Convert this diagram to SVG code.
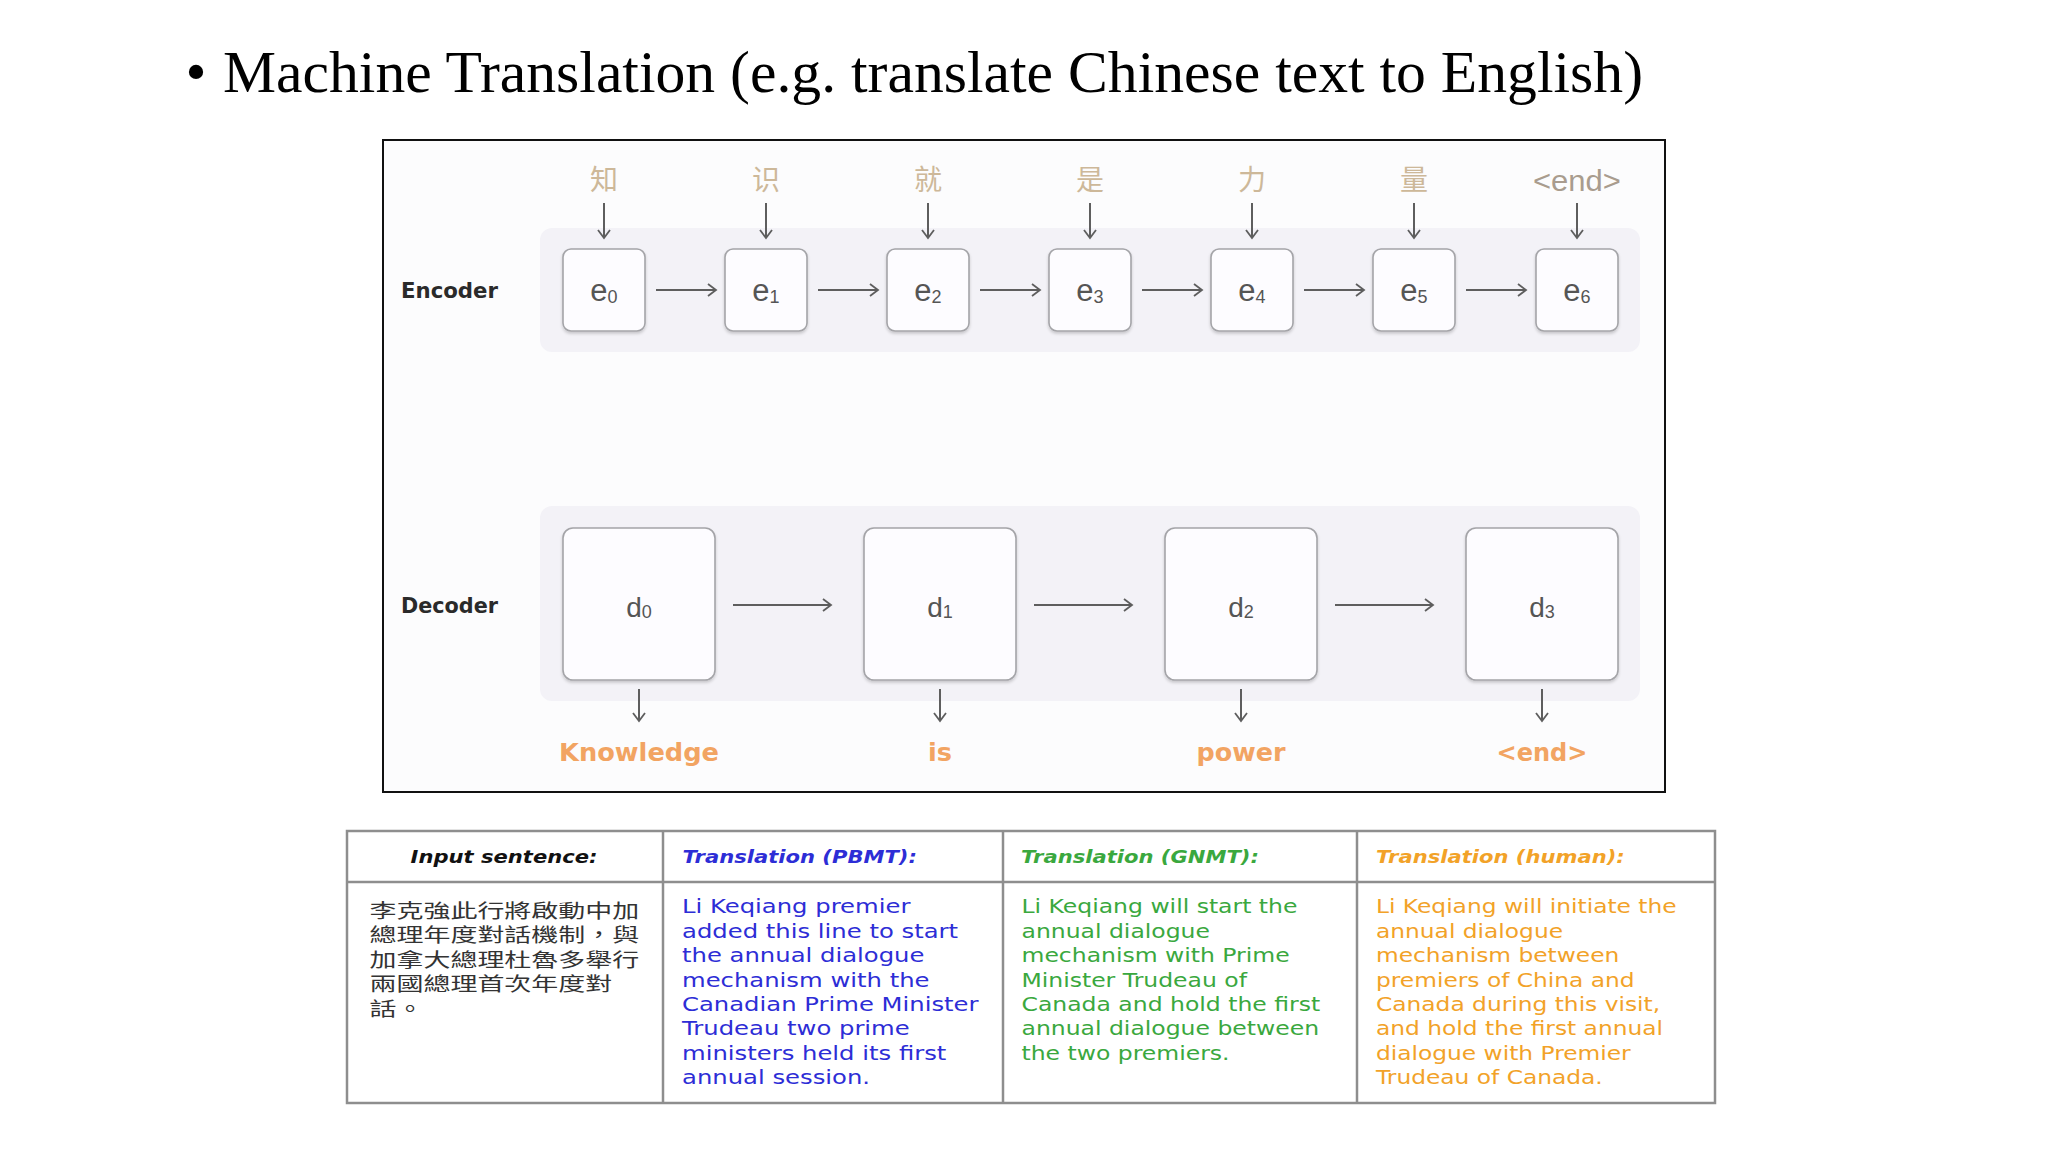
<svg xmlns="http://www.w3.org/2000/svg" width="2048" height="1152" viewBox="0 0 2048 1152">
<style>
.title{font-family:"Liberation Serif","Times New Roman",serif;font-size:60px;fill:#000}
.frame{fill:#fcfcfd;stroke:#111;stroke-width:2}
.band{fill:#f3f2f7}
.box{fill:#fdfcff;stroke:#a4a4a8;stroke-width:1.6}
.side{font-family:"DejaVu Sans",sans-serif;font-weight:bold;font-size:21px;fill:#2a2a2a}
.lbl{font-family:"Liberation Sans",Arial,sans-serif;font-size:31px;fill:#555;text-anchor:middle}
.dl{font-family:"Liberation Sans",Arial,sans-serif;font-size:28px;fill:#555;text-anchor:middle}
.sub{font-size:18px}
.zh{font-family:"Noto Sans CJK SC",sans-serif;font-size:28px;fill:#cdb899;text-anchor:middle}
.endin{font-family:"Liberation Sans",Arial,sans-serif;font-size:29px;fill:#a99c8e;text-anchor:middle}
.out{font-family:"DejaVu Sans",sans-serif;font-weight:bold;font-size:25px;fill:#f2a462;text-anchor:middle}
.conn{stroke:#5e5e5e;stroke-width:2;fill:none;marker-end:url(#ah)}
.tbl{fill:#fff;stroke:#8e8e8e;stroke-width:2.5}
.tl{stroke:#8e8e8e;stroke-width:2.5}
.hd{font-family:"DejaVu Sans",sans-serif;font-weight:bold;font-style:italic;font-size:18.5px}
.bd{font-family:"DejaVu Sans",sans-serif;font-size:19.6px}
.cn{font-family:"Noto Sans CJK TC","Noto Sans CJK SC",sans-serif;font-size:19px;fill:#333}
.blue{fill:#2d2dd6}
.green{fill:#3aa83e}
.orange{fill:#f2a228}
</style>
<defs>
<marker id="ah" viewBox="-1 -8 11 16" markerWidth="11" markerHeight="16" refX="8" refY="0" orient="auto" markerUnits="userSpaceOnUse">
<path d="M0,-6 L8,0 L0,6" fill="none" stroke="#5e5e5e" stroke-width="1.8"/>
</marker>
<filter id="sh" x="-10%" y="-10%" width="120%" height="130%">
<feDropShadow dx="0" dy="2" stdDeviation="1.5" flood-color="#000" flood-opacity="0.18"/>
</filter>
</defs>
<rect width="2048" height="1152" fill="#fff"/>

<g id="title">
<text class="title" x="196" y="92" text-anchor="middle">•</text>
<text class="title" x="223" y="92" textLength="1420" lengthAdjust="spacingAndGlyphs">Machine Translation (e.g. translate Chinese text to English)</text>
</g>

<g id="diagram-frame">
<rect class="frame" x="383" y="140" width="1282" height="652"/>
<rect class="band" x="540" y="228" width="1100" height="124" rx="12"/>
<rect class="band" x="540" y="506" width="1100" height="195" rx="12"/>
<text class="side" x="401" y="298" textLength="97" lengthAdjust="spacingAndGlyphs">Encoder</text>
<text class="side" x="401" y="613" textLength="97" lengthAdjust="spacingAndGlyphs">Decoder</text>
</g>

<g id="inputs">
<text class="zh" x="604" y="190">知</text>
<text class="zh" x="766" y="190">识</text>
<text class="zh" x="928" y="190">就</text>
<text class="zh" x="1090" y="190">是</text>
<text class="zh" x="1252" y="190">力</text>
<text class="zh" x="1414" y="190">量</text>
<text class="endin" x="1577" y="191" textLength="88" lengthAdjust="spacingAndGlyphs">&lt;end&gt;</text>
</g>

<g id="e0"><rect class="box" filter="url(#sh)" x="563" y="249" width="82" height="82" rx="8"/><text class="lbl" x="604" y="301">e<tspan class="sub" dy="2">0</tspan></text></g>
<g id="e1"><rect class="box" filter="url(#sh)" x="725" y="249" width="82" height="82" rx="8"/><text class="lbl" x="766" y="301">e<tspan class="sub" dy="2">1</tspan></text></g>
<g id="e2"><rect class="box" filter="url(#sh)" x="887" y="249" width="82" height="82" rx="8"/><text class="lbl" x="928" y="301">e<tspan class="sub" dy="2">2</tspan></text></g>
<g id="e3"><rect class="box" filter="url(#sh)" x="1049" y="249" width="82" height="82" rx="8"/><text class="lbl" x="1090" y="301">e<tspan class="sub" dy="2">3</tspan></text></g>
<g id="e4"><rect class="box" filter="url(#sh)" x="1211" y="249" width="82" height="82" rx="8"/><text class="lbl" x="1252" y="301">e<tspan class="sub" dy="2">4</tspan></text></g>
<g id="e5"><rect class="box" filter="url(#sh)" x="1373" y="249" width="82" height="82" rx="8"/><text class="lbl" x="1414" y="301">e<tspan class="sub" dy="2">5</tspan></text></g>
<g id="e6"><rect class="box" filter="url(#sh)" x="1536" y="249" width="82" height="82" rx="8"/><text class="lbl" x="1577" y="301">e<tspan class="sub" dy="2">6</tspan></text></g>

<g id="d0"><rect class="box" filter="url(#sh)" x="563" y="528" width="152" height="152" rx="10"/><text class="dl" x="639" y="617">d<tspan class="sub" dy="1">0</tspan></text></g>
<g id="d1"><rect class="box" filter="url(#sh)" x="864" y="528" width="152" height="152" rx="10"/><text class="dl" x="940" y="617">d<tspan class="sub" dy="1">1</tspan></text></g>
<g id="d2"><rect class="box" filter="url(#sh)" x="1165" y="528" width="152" height="152" rx="10"/><text class="dl" x="1241" y="617">d<tspan class="sub" dy="1">2</tspan></text></g>
<g id="d3"><rect class="box" filter="url(#sh)" x="1466" y="528" width="152" height="152" rx="10"/><text class="dl" x="1542" y="617">d<tspan class="sub" dy="1">3</tspan></text></g>

<g id="outputs">
<text class="out" x="639" y="761" textLength="160" lengthAdjust="spacingAndGlyphs">Knowledge</text>
<text class="out" x="940" y="761" textLength="24" lengthAdjust="spacingAndGlyphs">is</text>
<text class="out" x="1241" y="761" textLength="89" lengthAdjust="spacingAndGlyphs">power</text>
<text class="out" x="1542" y="761" textLength="91" lengthAdjust="spacingAndGlyphs">&lt;end&gt;</text>
</g>

<g id="connectors">
<line class="conn" x1="604" y1="203" x2="604" y2="238"/>
<line class="conn" x1="766" y1="203" x2="766" y2="238"/>
<line class="conn" x1="928" y1="203" x2="928" y2="238"/>
<line class="conn" x1="1090" y1="203" x2="1090" y2="238"/>
<line class="conn" x1="1252" y1="203" x2="1252" y2="238"/>
<line class="conn" x1="1414" y1="203" x2="1414" y2="238"/>
<line class="conn" x1="1577" y1="203" x2="1577" y2="238"/>
<line class="conn" x1="656" y1="290" x2="716" y2="290"/>
<line class="conn" x1="818" y1="290" x2="878" y2="290"/>
<line class="conn" x1="980" y1="290" x2="1040" y2="290"/>
<line class="conn" x1="1142" y1="290" x2="1202" y2="290"/>
<line class="conn" x1="1304" y1="290" x2="1364" y2="290"/>
<line class="conn" x1="1466" y1="290" x2="1526" y2="290"/>
<line class="conn" x1="733" y1="605" x2="831" y2="605"/>
<line class="conn" x1="1034" y1="605" x2="1132" y2="605"/>
<line class="conn" x1="1335" y1="605" x2="1433" y2="605"/>
<line class="conn" x1="639" y1="689" x2="639" y2="721"/>
<line class="conn" x1="940" y1="689" x2="940" y2="721"/>
<line class="conn" x1="1241" y1="689" x2="1241" y2="721"/>
<line class="conn" x1="1542" y1="689" x2="1542" y2="721"/>
</g>

<g id="table">
<rect class="tbl" x="347" y="831" width="1368" height="272"/>
<line class="tl" x1="347" y1="882" x2="1715" y2="882"/>
<line class="tl" x1="663" y1="831" x2="663" y2="1103"/>
<line class="tl" x1="1003" y1="831" x2="1003" y2="1103"/>
<line class="tl" x1="1357" y1="831" x2="1357" y2="1103"/>
<g transform="translate(504,0) scale(1.14,1)"><text class="hd" x="0" y="863" text-anchor="middle" fill="#111">Input sentence:</text></g>
<g transform="translate(682.5,0) scale(1.14,1)"><text class="hd blue" x="0" y="863">Translation (PBMT):</text></g>
<g transform="translate(1021,0) scale(1.14,1)"><text class="hd green" x="0" y="863">Translation (GNMT):</text></g>
<g transform="translate(1376,0) scale(1.14,1)"><text class="hd orange" x="0" y="863">Translation (human):</text></g>
</g>

<g id="col-input" transform="translate(369.5,0) scale(1.42,1)">
<text class="cn" x="0" y="918">李克強此行將啟動中加</text>
<text class="cn" x="0" y="942.4">總理年度對話機制，與</text>
<text class="cn" x="0" y="966.8">加拿大總理杜魯多舉行</text>
<text class="cn" x="0" y="991.2">兩國總理首次年度對</text>
<text class="cn" x="0" y="1015.6">話。</text>
</g>

<g id="col-pbmt" class="blue" transform="translate(682,0) scale(1.24,1)">
<text class="bd blue" x="0" y="913.5">Li Keqiang premier</text>
<text class="bd blue" x="0" y="937.9">added this line to start</text>
<text class="bd blue" x="0" y="962.3">the annual dialogue</text>
<text class="bd blue" x="0" y="986.7">mechanism with the</text>
<text class="bd blue" x="0" y="1011.1">Canadian Prime Minister</text>
<text class="bd blue" x="0" y="1035.5">Trudeau two prime</text>
<text class="bd blue" x="0" y="1059.9">ministers held its first</text>
<text class="bd blue" x="0" y="1084.3">annual session.</text>
</g>

<g id="col-gnmt" transform="translate(1021.5,0) scale(1.2,1)">
<text class="bd green" x="0" y="913.5">Li Keqiang will start the</text>
<text class="bd green" x="0" y="937.9">annual dialogue</text>
<text class="bd green" x="0" y="962.3">mechanism with Prime</text>
<text class="bd green" x="0" y="986.7">Minister Trudeau of</text>
<text class="bd green" x="0" y="1011.1">Canada and hold the first</text>
<text class="bd green" x="0" y="1035.5">annual dialogue between</text>
<text class="bd green" x="0" y="1059.9">the two premiers.</text>
</g>

<g id="col-human" transform="translate(1376,0) scale(1.19,1)">
<text class="bd orange" x="0" y="913.5">Li Keqiang will initiate the</text>
<text class="bd orange" x="0" y="937.9">annual dialogue</text>
<text class="bd orange" x="0" y="962.3">mechanism between</text>
<text class="bd orange" x="0" y="986.7">premiers of China and</text>
<text class="bd orange" x="0" y="1011.1">Canada during this visit,</text>
<text class="bd orange" x="0" y="1035.5">and hold the first annual</text>
<text class="bd orange" x="0" y="1059.9">dialogue with Premier</text>
<text class="bd orange" x="0" y="1084.3">Trudeau of Canada.</text>
</g>
</svg>
